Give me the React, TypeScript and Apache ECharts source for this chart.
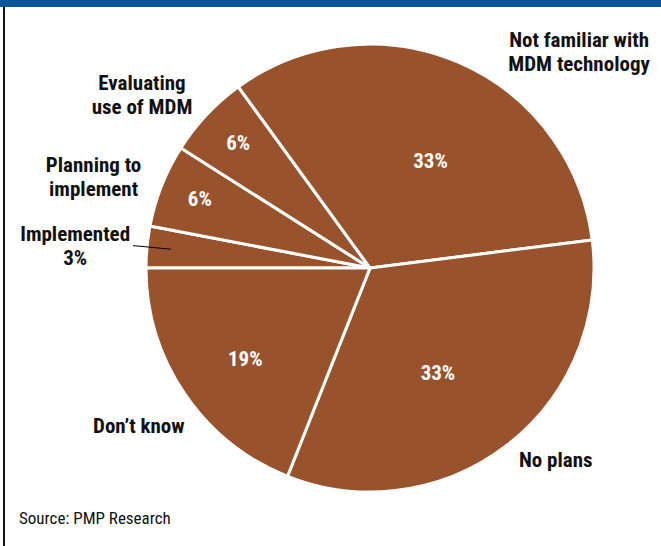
import React, { useEffect, useRef } from 'react';
import * as echarts from 'echarts';

// ---- data ----
const categories = [
  'Implemented',
  'Planning to\nimplement',
  'Evaluating\nuse of MDM',
  'Not familiar with\nMDM technology',
  'No plans',
  'Don\u2019t know',
];
const shares = [3, 6, 6, 33, 33, 19];
const sourceNote = 'Source: PMP Research';

// ---- styling / layout constants ----
const CENTER: [number, number] = [370, 268];
const RADIUS = 224;
const START_ANGLE = 180;
const NAME_LINE_LEN = [14, 22, 28, 11, 19, 57];
const NAME_LINE_LEN2 = [0, 0, -6, 45, 0, -47];
const PCT_RADIUS = [0, 0.82, 0.81, 0.55, 0.56, 0.69];
const PCT_TURN = [0, 0.5, 0.2, 6, 5, -2];
const SLICE = '#98532d';
const FONT = "'Liberation Sans Narrow', 'Arial Narrow', 'Roboto Condensed', sans-serif";

export default function App() {
  const ref = useRef<HTMLDivElement>(null);
  useEffect(() => {
    document.body.style.margin = '0';
    const chart = echarts.init(ref.current!, undefined, { renderer: 'svg' });
    const total = shares.reduce((a, b) => a + b, 0);
    const midAngle = (i: number) => {
      let cum = 0;
      for (let k = 0; k < i; k++) cum += shares[k];
      return ((START_ANGLE + ((cum + shares[i] / 2) / total) * 360 + PCT_TURN[i]) * Math.PI) / 180;
    };
    const nameRich = {
      n: { align: 'center', fontFamily: FONT, fontWeight: 'bold', fontSize: 21, lineHeight: 24, color: '#111' },
    };
    chart.setOption({
      animation: false,
      backgroundColor: '#fff',
      graphic: [
        { type: 'rect', left: 0, top: 0, shape: { width: 661, height: 7 }, style: { fill: '#0b5697' } },
        { type: 'rect', left: 3, top: 7, shape: { width: 2, height: 539 }, style: { fill: '#111' } },
        {
          type: 'text',
          left: 19,
          top: 509,
          style: { text: sourceNote, font: `17px ${FONT}`, fill: '#111' },
        },
      ],
      series: [
        {
          // slices with percentage labels
          type: 'pie',
          z: 2,
          center: CENTER,
          radius: RADIUS,
          startAngle: START_ANGLE,
          clockwise: true,
          avoidLabelOverlap: false,
          silent: true,
          emphasis: { disabled: true },
          itemStyle: { color: SLICE, borderColor: '#fff', borderWidth: 3 },
          label: {
            show: true,
            position: 'inside',
            formatter: '{c}%',
            color: '#fff',
            fontFamily: FONT,
            fontWeight: 'bold',
            fontSize: 21,
          },
          labelLine: { show: false },
          labelLayout: (p: any) => {
            const i = p.dataIndex;
            const a = midAngle(i);
            const R = RADIUS * PCT_RADIUS[i];
            return { x: CENTER[0] + R * Math.cos(a), y: CENTER[1] + R * Math.sin(a) };
          },
          data: categories.map((name, i) => ({
            name,
            value: shares[i],
            label: { show: i !== 0 },
          })),
        },
        {
          // transparent overlay carrying the category labels
          type: 'pie',
          z: 3,
          center: CENTER,
          radius: RADIUS,
          startAngle: START_ANGLE,
          clockwise: true,
          avoidLabelOverlap: false,
          silent: true,
          emphasis: { disabled: true },
          itemStyle: { color: 'rgba(0,0,0,0)', borderWidth: 0 },
          label: {
            show: true,
            position: 'outside',
            distanceToLabelLine: 0,
            bleedMargin: 0,
            formatter: (p: any) => {
              const txt = p.dataIndex === 0 ? `${p.name}\n${p.value}%` : p.name;
              return txt
                .split('\n')
                .map((s: string) => `{n|${s}}`)
                .join('\n');
            },
            rich: nameRich,
          },
          labelLine: { show: false, lineStyle: { color: '#000', width: 1 } },
          labelLayout: (p: any) => {
            if (p.dataIndex !== 0 || !p.labelLinePoints) return {};
            const pts = p.labelLinePoints;
            const a = pts[0];
            const b = pts[1];
            const vx = a[0] - b[0];
            const vy = a[1] - b[1];
            const L = Math.hypot(vx, vy) || 1;
            return { labelLinePoints: [[a[0] + (vx / L) * 24, a[1] + (vy / L) * 24], b, pts[2] || b] };
          },
          data: categories.map((name, i) => ({
            name,
            value: shares[i],
            label: i === 0 ? { distanceToLabelLine: 3 } : {},
            labelLine: { show: i === 0, length: NAME_LINE_LEN[i], length2: NAME_LINE_LEN2[i] },
          })),
        },
      ],
    });
    return () => chart.dispose();
  }, []);
  return (
    <div
      ref={ref}
      style={{ position: 'fixed', left: 0, top: 0, width: 661, height: 546, background: '#fff' }}
    />
  );
}
